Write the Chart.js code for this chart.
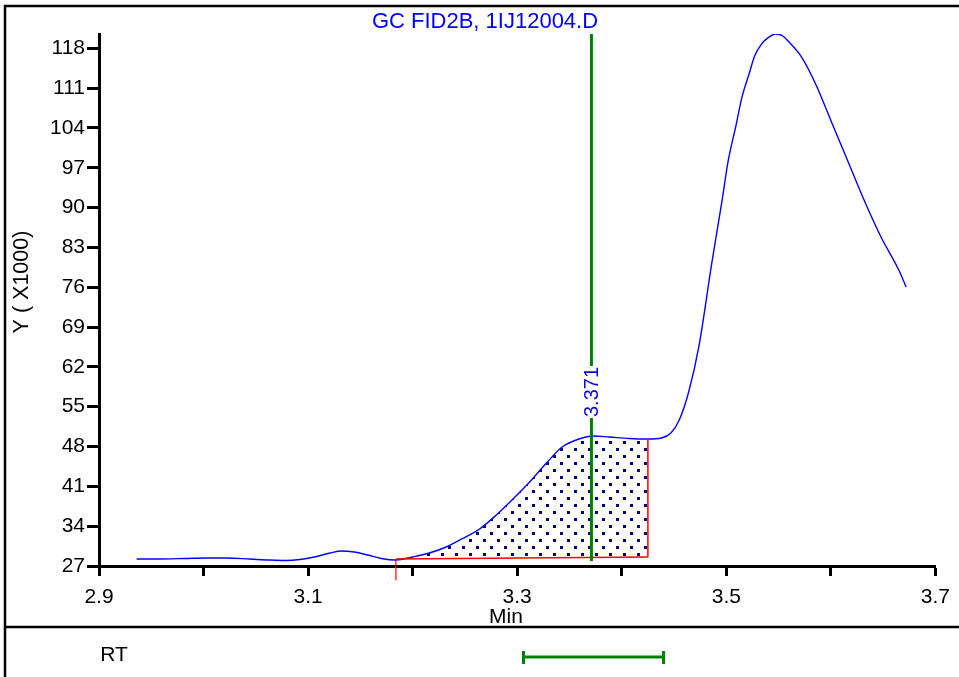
<!DOCTYPE html>
<html lang="en">
<head>
<meta charset="UTF-8">
<title>GC FID2B, 1IJ12004.D</title>
<script src="https://cdn.jsdelivr.net/npm/chart.js@4.4.1/dist/chart.umd.min.js"></script>
<style>
  html, body { margin: 0; padding: 0; background: #fff; }
  .chart-box { position: relative; width: 959px; height: 677px; }
</style>
</head>
<body>
<div class="chart-box"><canvas id="fidChart"></canvas></div>
<script>
  // retention time (min) and FID signal (x1000)
  var rtMin = [2.936, 2.958, 2.982, 3.001, 3.022, 3.044, 3.063, 3.079, 3.092, 3.106,
               3.121, 3.132, 3.144, 3.157, 3.170, 3.184, 3.200, 3.216, 3.232, 3.247,
               3.264, 3.280, 3.295, 3.311, 3.328, 3.343, 3.359, 3.373, 3.388, 3.407,
               3.425, 3.438, 3.447, 3.455, 3.464, 3.474, 3.486, 3.496, 3.502, 3.509,
               3.515, 3.522, 3.527, 3.534, 3.541, 3.547, 3.554, 3.560, 3.572, 3.585,
               3.601, 3.617, 3.633, 3.648, 3.665, 3.672];
  var signal = [28.23, 28.23, 28.32, 28.41, 28.41, 28.23, 28.05, 27.97, 28.14, 28.58,
                29.28, 29.64, 29.46, 28.93, 28.32, 28.05, 28.58, 29.28, 30.34, 31.75,
                33.50, 35.96, 38.60, 41.59, 45.10, 47.91, 49.32, 49.85, 49.67, 49.41,
                49.32, 49.50, 50.37, 52.66, 57.58, 65.84, 80.08, 91.32, 98.40, 104.20,
                109.40, 113.60, 116.60, 118.80, 120.00, 120.50, 120.15, 119.09, 116.45, 111.89,
                104.86, 97.83, 90.80, 84.82, 79.02, 76.03];

  var xTicks = [2.9, 3.0, 3.1, 3.2, 3.3, 3.4, 3.5, 3.6, 3.7];
  var xTickLabels = ['2.9', '', '3.1', '', '3.3', '', '3.5', '', '3.7'];
  var yTicks = [27, 34, 41, 48, 55, 62, 69, 76, 83, 90, 97, 104, 111, 118];

  // integrated peak
  var peakRT = 3.371;
  var baseTimes = [3.184, 3.425];
  var baseValues = [28.23, 28.58];
  var rtWindow = [3.306, 3.440];

  var FONT = "'Liberation Sans', Arial, sans-serif";

  var tracePts = rtMin.map(function (t, i) { return { x: t, y: signal[i] }; });
  var areaPts = tracePts.filter(function (p) { return p.x >= baseTimes[0] && p.x <= baseTimes[1]; });

  // dotted navy hatch for the integrated area
  var tile = document.createElement('canvas');
  tile.width = 14; tile.height = 14;
  var tctx = tile.getContext('2d');
  tctx.fillStyle = '#000080';
  tctx.fillRect(0, 0, 3, 3);
  tctx.fillRect(7, 7, 3, 3);
  var dots = tctx.createPattern(tile, 'repeat');

  var decor = {
    id: 'decor',
    afterDraw: function (chart) {
      var ctx = chart.ctx;
      var xs = chart.scales.x;
      ctx.save();

      // outer frame and the lower band separator
      ctx.strokeStyle = '#000';
      ctx.lineWidth = 2.5;
      ctx.beginPath();
      ctx.moveTo(5, 677); ctx.lineTo(5, 6); ctx.lineTo(959, 6);
      ctx.moveTo(5, 627); ctx.lineTo(959, 627);
      ctx.stroke();

      ctx.textAlign = 'center';
      ctx.textBaseline = 'middle';

      ctx.fillStyle = '#0000ff';
      ctx.font = '22px ' + FONT;
      ctx.fillText('GC FID2B, 1IJ12004.D', 485, 22);

      ctx.fillStyle = '#000';
      ctx.font = '21px ' + FONT;
      ctx.fillText('Min', 506, 617);
      ctx.fillText('RT', 114, 655);

      ctx.save();
      ctx.translate(22, 282);
      ctx.rotate(-Math.PI / 2);
      ctx.font = '21.5px ' + FONT;
      ctx.fillText('Y ( X1000)', 0, 0);
      ctx.restore();

      // peak label on the marker
      var px = xs.getPixelForValue(peakRT) + 1;
      ctx.save();
      ctx.translate(px, 392);
      ctx.rotate(-Math.PI / 2);
      ctx.font = '20px ' + FONT;
      var w = ctx.measureText('3.371').width;
      ctx.fillStyle = '#fff';
      ctx.fillRect(-w / 2 - 1, -9, w + 2, 18);
      ctx.fillStyle = '#0000ff';
      ctx.fillText('3.371', 0, 0);
      ctx.restore();

      // RT window bar
      var a = xs.getPixelForValue(rtWindow[0]);
      var b = xs.getPixelForValue(rtWindow[1]);
      ctx.strokeStyle = '#008000';
      ctx.lineWidth = 3;
      ctx.beginPath();
      ctx.moveTo(a, 657); ctx.lineTo(b, 657);
      ctx.moveTo(a, 651); ctx.lineTo(a, 664);
      ctx.moveTo(b, 651); ctx.lineTo(b, 664);
      ctx.stroke();

      ctx.restore();
    }
  };

  new Chart('fidChart', {
    type: 'line',
    data: {
      datasets: [
        {
          // 0: retention time marker
          data: [{ x: peakRT, y: 27.9 }, { x: peakRT, y: 120.5 }],
          borderColor: '#008000', borderWidth: 3, pointRadius: 0, order: 0
        },
        {
          // 1: integration baseline
          data: [{ x: baseTimes[0], y: baseValues[0] }, { x: baseTimes[1], y: baseValues[1] }],
          borderColor: '#ff0000', borderWidth: 1.5, pointRadius: 0, order: 1
        },
        {
          // 2: drop line at peak end
          data: [{ x: baseTimes[1], y: baseValues[1] }, { x: baseTimes[1], y: 49.32 }],
          borderColor: '#ff0000', borderWidth: 1.5, pointRadius: 0, order: 1
        },
        {
          // 3: start marker below the axis
          data: [{ x: baseTimes[0], y: 24.5 }, { x: baseTimes[0], y: baseValues[0] }],
          borderColor: '#ff0000', borderWidth: 1.2, pointRadius: 0, order: 1, clip: false
        },
        {
          // 4: detector trace
          data: tracePts,
          borderColor: '#0000ff', borderWidth: 1.4, pointRadius: 0,
          cubicInterpolationMode: 'monotone', order: 2
        },
        {
          // 5: integrated area
          data: areaPts,
          borderWidth: 0, borderColor: 'rgba(0,0,0,0)', pointRadius: 0,
          cubicInterpolationMode: 'monotone', order: 3,
          fill: { target: 1, above: dots, below: 'rgba(0,0,0,0)' }
        }
      ]
    },
    options: {
      responsive: true,
      maintainAspectRatio: false,
      devicePixelRatio: 1,
      animation: false,
      layout: { padding: { top: 34, right: 22, bottom: 0, left: 0 } },
      plugins: { legend: { display: false }, tooltip: { enabled: false } },
      scales: {
        x: {
          type: 'linear', min: 2.9, max: 3.7,
          afterBuildTicks: function (s) { s.ticks = xTicks.map(function (v) { return { value: v }; }); },
          afterFit: function (s) { s.height = 111; },
          ticks: {
            autoSkip: false, maxRotation: 0, padding: 9, color: '#000',
            font: { family: FONT, size: 21 },
            callback: function (v, i) { return xTickLabels[i]; }
          },
          grid: { drawOnChartArea: false, drawTicks: true, tickLength: 10, tickWidth: 3, tickColor: '#000' },
          border: { color: '#000', width: 3 }
        },
        y: {
          type: 'linear', min: 27, max: 120.5,
          afterBuildTicks: function (s) { s.ticks = yTicks.map(function (v) { return { value: v }; }); },
          afterFit: function (s) { s.width = 99; },
          ticks: {
            padding: 2, color: '#000',
            font: { family: FONT, size: 21 }
          },
          grid: { drawOnChartArea: false, drawTicks: true, tickLength: 12, tickWidth: 3, tickColor: '#000' },
          border: { color: '#000', width: 3 }
        }
      }
    },
    plugins: [decor]
  });
</script>
</body>
</html>
